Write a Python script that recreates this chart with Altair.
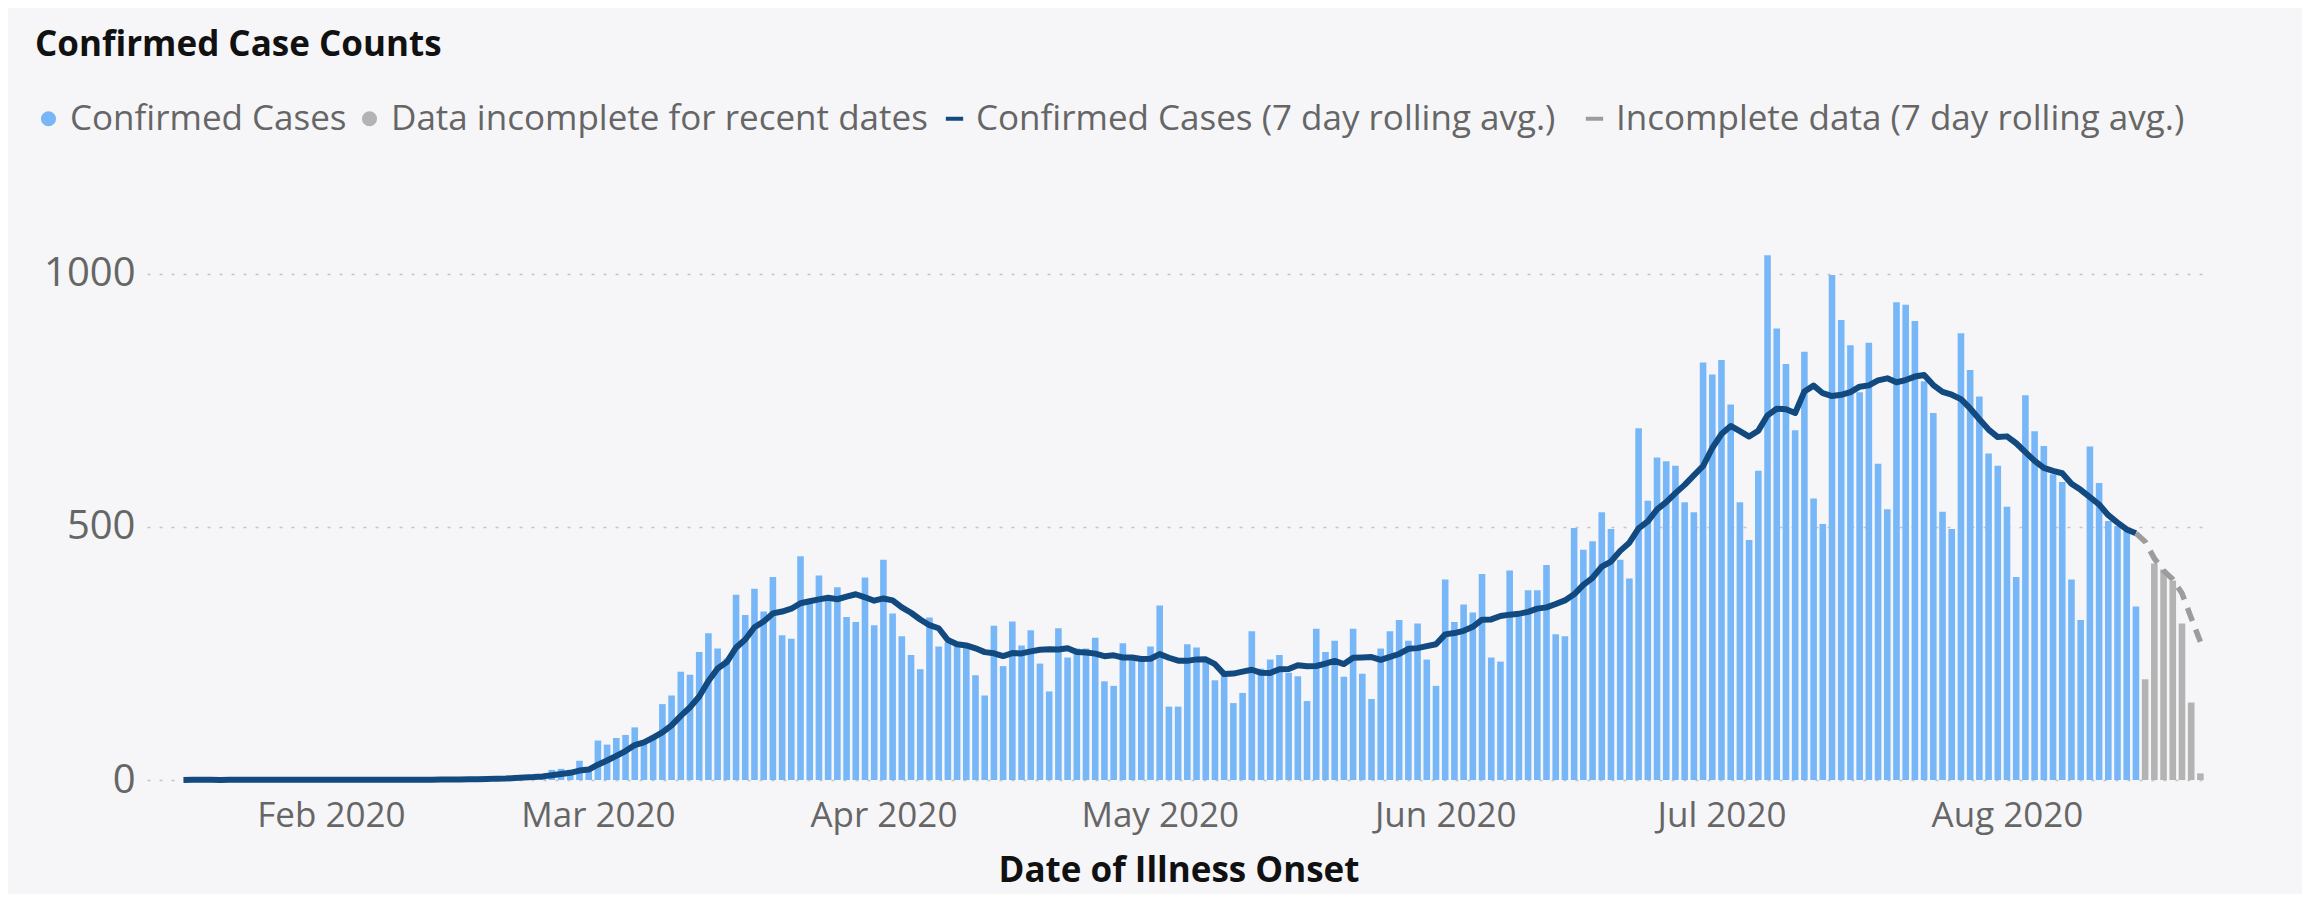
import altair as alt
import pandas as pd

start_date = "2020-01-16"
cases = [
    # Jan 16 - Jan 31
    0, 1, 0, 0, 0, 1, 0, 0, 1, 0, 0, 1, 0, 0, 1, 0,
    # Feb 1 - Feb 29
    0, 1, 0, 1, 0, 0, 1, 1, 0, 1, 1, 0, 2, 2, 1, 3, 2, 4, 5, 4, 7, 8, 10,
    12, 20, 22, 20, 38, 22,
    # Mar 1 - Mar 31
    78, 70, 83, 89, 104, 75, 88, 150, 167, 214, 208, 253, 290, 260, 240, 366,
    326, 378, 333, 401, 286, 279, 442, 353, 404, 355, 381, 322, 312, 400, 306,
    # Apr 1 - Apr 30
    435, 329, 284, 247, 219, 321, 264, 272, 270, 268, 207, 167, 305, 225, 313,
    266, 296, 230, 175, 300, 242, 260, 260, 281, 195, 186, 270, 242, 239, 264,
    # May 1 - May 31
    345, 145, 145, 268, 262, 240, 197, 208, 152, 172, 294, 220, 238, 247, 212,
    205, 156, 299, 253, 275, 204, 299, 210, 160, 260, 294, 316, 275, 309, 238, 186,
    # Jun 1 - Jun 30
    396, 312, 347, 331, 407, 242, 234, 414, 323, 375, 375, 425, 288, 284, 498,
    455, 472, 529, 496, 435, 398, 695, 552, 637, 630, 621, 549, 529, 825, 801,
    # Jul 1 - Jul 31
    830, 742, 549, 474, 611, 1037, 892, 822, 691, 846, 556, 506, 998, 909, 859,
    766, 864, 625, 535, 944, 939, 907, 788, 725, 530, 496, 883, 810, 758, 645, 621,
    # Aug 1 - Aug 22
    540, 401, 760, 689, 660, 604, 589, 396, 316, 659, 587, 512, 502, 494, 343,
    199, 428, 416, 394, 309, 153, 13,
]
n_incomplete = 7

series_names = ["Confirmed Cases", "Data incomplete for recent dates"]
line_names = ["Confirmed Cases (7 day rolling avg.)", "Incomplete data (7 day rolling avg.)"]

dates = pd.date_range(start_date, periods=len(cases), freq="D")
n_complete = len(cases) - n_incomplete
status = [series_names[0]] * n_complete + [series_names[1]] * n_incomplete

df = pd.DataFrame({
    "date": dates.strftime("%Y-%m-%d"),
    "cases": cases,
    "status": status,
    "solid": [i <= n_complete - 1 for i in range(len(cases))],
    "dashed": [i >= n_complete - 1 for i in range(len(cases))],
})

FONT = "Open Sans"
BG = "#f6f6f9"
BLUE = "#78b7f7"
GRAY = "#b3b3b3"
NAVY = "#124a80"
DGRAY = "#9c9c9c"

xscale = alt.Scale(
    type="utc",
    domain=[alt.DateTime(year=2020, month=1, date=12, hours=14, utc=True),
            alt.DateTime(year=2020, month=8, date=22, hours=12, utc=True)],
)
month_ticks = [alt.DateTime(year=2020, month=m, date=1, utc=True) for m in range(2, 9)]

x = alt.X(
    "date:T",
    scale=xscale,
    axis=alt.Axis(
        values=month_ticks,
        labelExpr="utcFormat(datum.value, '%b %Y')",
        grid=False, ticks=False, domain=False,
        labelFontSize=35, labelColor="#666666", labelFont=FONT, labelPadding=18,
        title="Date of Illness Onset", titleFontSize=35, titleFont=FONT,
        titleFontWeight="bold", titleColor="#111111", titlePadding=20,
    ),
)
y = alt.Y(
    "cases:Q",
    scale=alt.Scale(domain=[0, 1150], nice=False),
    axis=alt.Axis(
        values=[0, 500, 1000], format="d", title=None, ticks=False, domain=False,
        labelFontSize=40, labelColor="#666666", labelFont=FONT, labelPadding=12,
        grid=True, gridDash=[3, 9], gridColor="#c4c4c4", gridWidth=1.5,
    ),
)

base = alt.Chart(df)

bars = base.mark_bar(width=6.6).encode(
    x=x,
    y=y,
    fill=alt.Fill(
        "status:N",
        scale=alt.Scale(domain=series_names, range=[BLUE, GRAY]),
        legend=alt.Legend(
            title=None, orient="none", direction="horizontal",
            legendX=-116, legendY=-97,
            symbolType="circle", symbolSize=230, symbolStrokeWidth=0,
            labelFontSize=35, labelFont=FONT, labelColor="#666666",
            labelOffset=4, columnPadding=5, labelLimit=0,
        ),
    ),
)

rolled = base.transform_window(
    avg="mean(cases)", frame=[-6, 0], sort=[alt.SortField("date")]
)

stroke_scale = alt.Scale(domain=line_names, range=[NAVY, DGRAY])
stroke_legend = alt.Legend(
    title=None, orient="none", direction="horizontal",
    legendX=790, legendY=-97,
    symbolType="stroke", symbolSize=300, symbolStrokeWidth=4,
    labelFontSize=35, labelFont=FONT, labelColor="#666666",
    labelOffset=4, columnPadding=21, labelLimit=0,
)

solid = rolled.transform_filter("datum.solid").transform_calculate(
    series=f"'{line_names[0]}'"
).mark_line(strokeWidth=6, strokeJoin="round").encode(
    x="date:T",
    y="avg:Q",
    stroke=alt.Stroke("series:N", scale=stroke_scale, legend=stroke_legend),
)

dashed = rolled.transform_filter("datum.dashed").transform_calculate(
    series=f"'{line_names[1]}'"
).mark_line(strokeWidth=5.5, strokeDash=[14, 9]).encode(
    x="date:T",
    y="avg:Q",
    stroke=alt.Stroke("series:N", scale=stroke_scale, legend=stroke_legend),
)

chart = alt.layer(bars, solid, dashed).properties(
    width=2063,
    height=582,
    autosize=alt.AutoSizeParams(type="none"),
    padding={"left": 139, "top": 190, "right": 92, "bottom": 114},
    background=BG,
    title=alt.TitleParams(
        "Confirmed Case Counts", anchor="start", frame="group",
        dx=-112, offset=3, baseline="bottom",
        fontSize=35, fontWeight="bold", font=FONT, color="#111111",
    ),
).configure_view(stroke=None, fill=BG)

chart.save("out.html", embed_options={"renderer": "svg", "actions": False})
